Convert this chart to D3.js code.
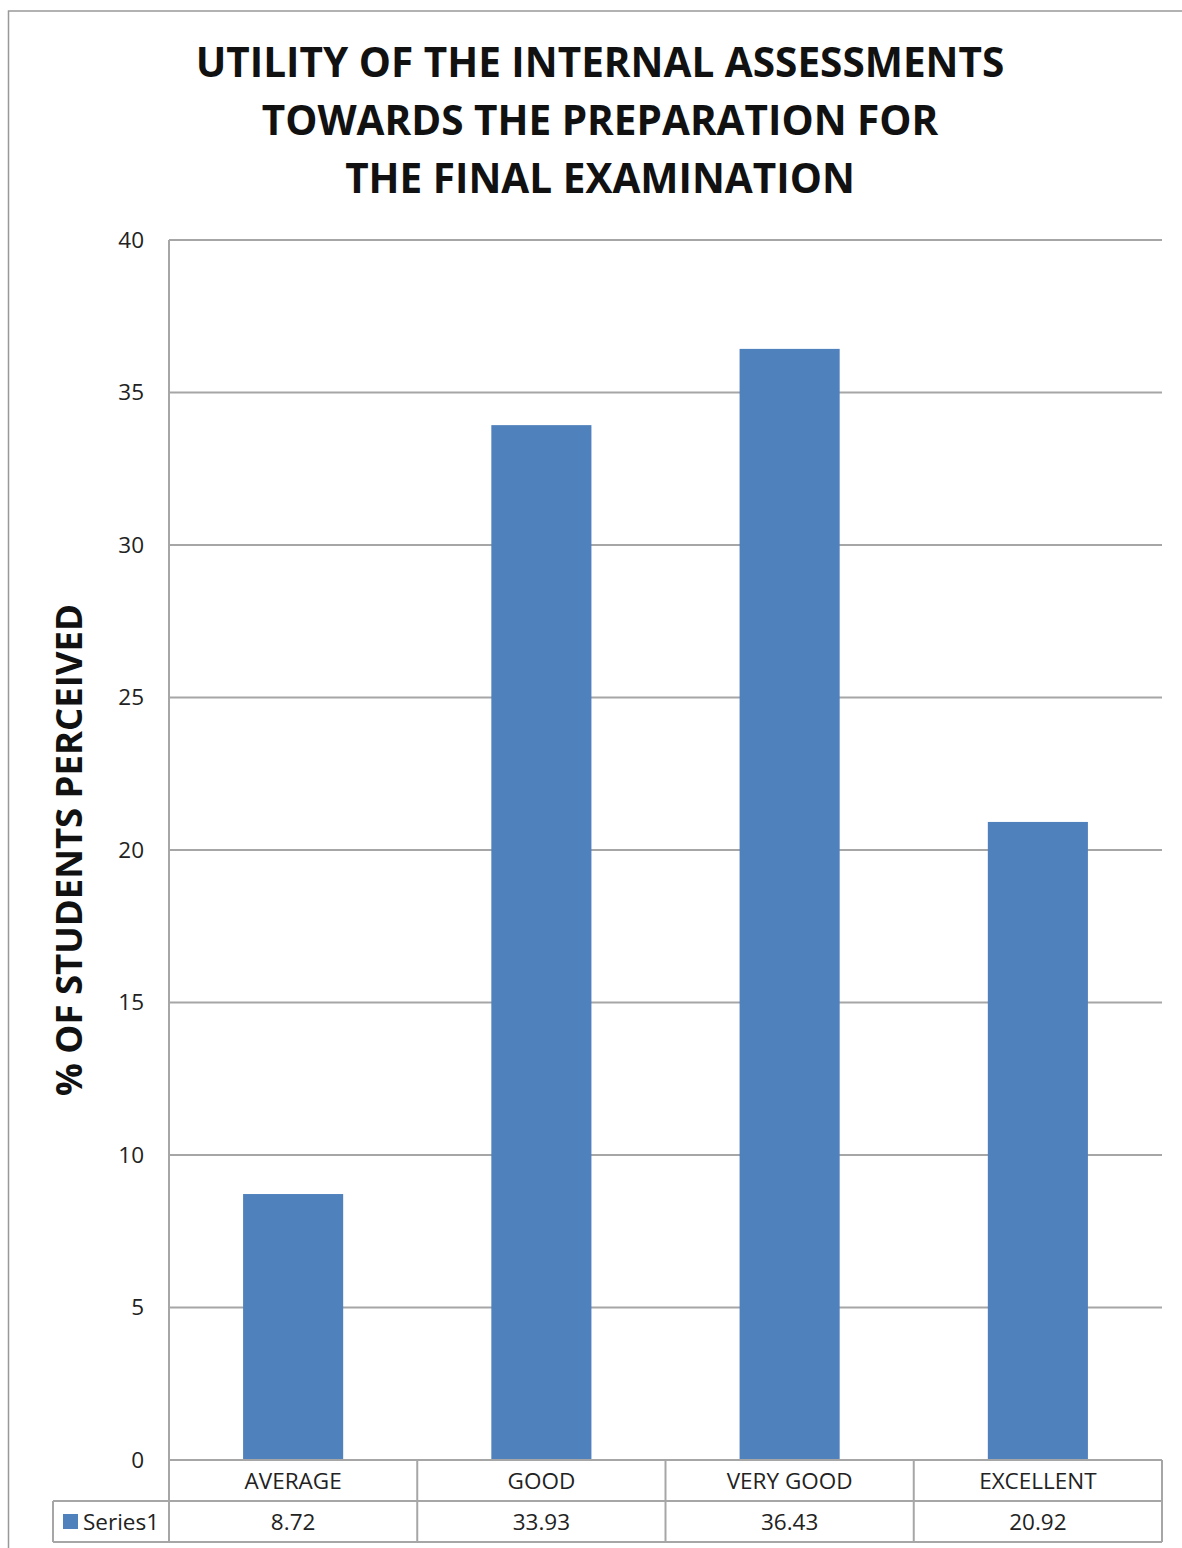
<!DOCTYPE html>
<html><head><meta charset="utf-8">
<script src="https://cdn.jsdelivr.net/npm/d3@7"></script>
<style>body{margin:0;background:#fff}svg{display:block}</style>
</head><body>
<script>
const categories = ["AVERAGE","GOOD","VERY GOOD","EXCELLENT"];
const values = [8.72,33.93,36.43,20.92];
const valueLabels = ["8.72","33.93","36.43","20.92"];
const seriesName = "Series1";
const yTicks = [0,5,10,15,20,25,30,35,40];
const titleLines = ["UTILITY OF THE INTERNAL ASSESSMENTS","TOWARDS THE PREPARATION FOR","THE FINAL EXAMINATION"];
const yTitle = "% OF STUDENTS PERCEIVED";

const W=1182,H=1548;
const font="'Open Sans', Carlito, Calibri, sans-serif";
const svg=d3.select("body").append("svg").attr("width",W).attr("height",H);
svg.append("rect").attr("x",8.5).attr("y",11).attr("width",W+10).attr("height",H+10)
  .attr("fill","none").attr("stroke","#999").attr("stroke-width",1.5);

const pL=169,pR=1162,pT=240,pB=1460;
const x=d3.scaleBand().domain(categories).range([pL,pR]).paddingInner(0.5968).paddingOuter(0.2984);
const y=d3.scaleLinear().domain([0,40]).range([pB,pT]);

// gridlines
svg.append("g").selectAll("line").data(yTicks).join("line")
  .attr("x1",pL).attr("x2",pR).attr("y1",d=>y(d)).attr("y2",d=>y(d))
  .attr("stroke","#a6a6a6").attr("stroke-width",2);
svg.append("line").attr("x1",pL).attr("x2",pL).attr("y1",pT).attr("y2",pB)
  .attr("stroke","#a6a6a6").attr("stroke-width",2);

// y tick labels
const yAxis=d3.axisLeft(y).tickValues(yTicks).tickSize(0).tickPadding(0);
const ya=svg.append("g").attr("transform",`translate(${pL-25},0)`).call(yAxis);
ya.select(".domain").remove();
ya.selectAll("text").attr("font-family",font).attr("font-size",22.5).attr("fill","#222");

// bars
svg.append("g").selectAll("rect").data(values).join("rect")
  .attr("x",(d,i)=>x(categories[i])).attr("width",x.bandwidth())
  .attr("y",d=>y(d)).attr("height",d=>y(0)-y(d)).attr("fill","#4F81BD");

// data table
const step=(pR-pL)/categories.length;
const tableLeft=53, r1=pB, r2=1501, r3=1542;
const tg=svg.append("g").attr("stroke","#a6a6a6").attr("stroke-width",2).attr("fill","none");
tg.append("line").attr("x1",pL).attr("x2",pR).attr("y1",r1).attr("y2",r1);
tg.append("line").attr("x1",tableLeft).attr("x2",pR).attr("y1",r2).attr("y2",r2);
tg.append("line").attr("x1",tableLeft).attr("x2",pR).attr("y1",r3).attr("y2",r3);
tg.append("line").attr("x1",tableLeft).attr("x2",tableLeft).attr("y1",r2).attr("y2",r3);
d3.range(categories.length+1).forEach(i=>{
  tg.append("line").attr("x1",pL+i*step).attr("x2",pL+i*step).attr("y1",r1).attr("y2",r3);
});
svg.append("g").selectAll("text").data(categories).join("text")
  .attr("x",d=>x(d)+x.bandwidth()/2).attr("y",(r1+r2)/2+8).attr("text-anchor","middle")
  .attr("font-family",font).attr("font-size",22.5).attr("fill","#222").text(d=>d);
svg.append("g").selectAll("text").data(valueLabels).join("text")
  .attr("x",(d,i)=>x(categories[i])+x.bandwidth()/2).attr("y",(r2+r3)/2+8).attr("text-anchor","middle")
  .attr("font-family",font).attr("font-size",22.5).attr("fill","#222").text(d=>d);
svg.append("rect").attr("x",63).attr("y",1514).attr("width",15).attr("height",15).attr("fill","#4F81BD");
svg.append("text").attr("x",83).attr("y",(r2+r3)/2+8).attr("font-family",font).attr("font-size",22.5)
  .attr("fill","#222").text(seriesName);

// title
svg.append("g").selectAll("text").data(titleLines).join("text")
  .attr("x",600).attr("y",(d,i)=>77+i*58).attr("text-anchor","middle")
  .attr("font-family",font).attr("font-weight","bold").attr("font-size",40.5).attr("fill","#111").text(d=>d);

// y title
svg.append("text").attr("transform","translate(82,850) rotate(-90)").attr("text-anchor","middle")
  .attr("font-family",font).attr("font-weight","bold").attr("font-size",36.5).attr("fill","#111").text(yTitle);
</script>
</body></html>
